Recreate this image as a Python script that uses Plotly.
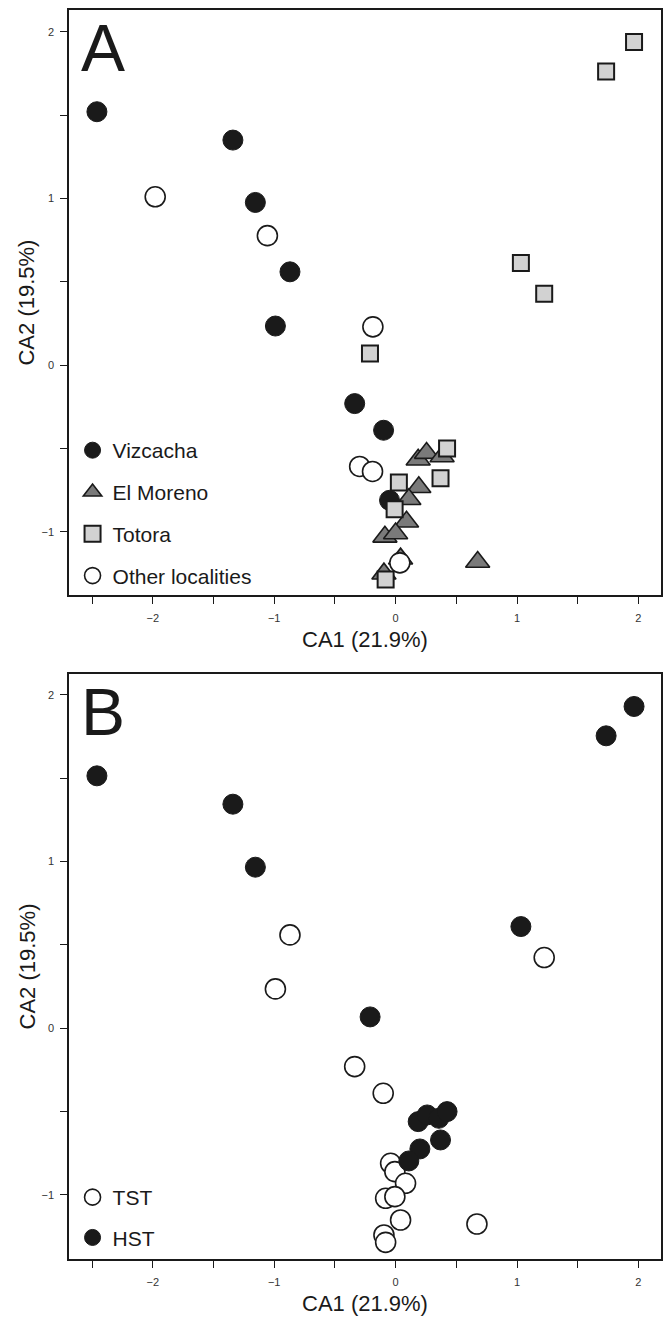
import plotly.graph_objects as go

# ---------------- Panel A data (CA1, CA2 scores by locality) ----------------
viz_x = [-2.46, -1.34, -1.155, -0.87, -0.99, -0.337, -0.099, -0.05]
viz_y = [1.52, 1.35, 0.976, 0.56, 0.235, -0.23, -0.39, -0.81]

moreno_x = [0.186, 0.255, 0.383, 0.191, 0.109, 0.09, -0.088, 0.0, 0.041, -0.096, 0.676]
moreno_y = [-0.567, -0.527, -0.547, -0.732, -0.804, -0.939, -1.029, -1.009, -1.16, -1.25, -1.18]

totora_x = [1.964, 1.734, 1.032, 1.224, -0.211, 0.424, 0.37, 0.027, -0.008, -0.082]
totora_y = [1.938, 1.761, 0.613, 0.428, 0.07, -0.50, -0.677, -0.703, -0.864, -1.285]

other_x = [-1.98, -1.056, -0.187, -0.296, -0.19, 0.035]
other_y = [1.01, 0.777, 0.23, -0.607, -0.637, -1.185]

# ---------------- Panel B data (TST / HST) ----------------
tst_x = [-0.87, -0.99, 1.224, -0.337, -0.102, -0.041, -0.006, 0.082, -0.082, -0.006, 0.041, -0.096, -0.082, 0.67]
tst_y = [0.56, 0.236, 0.424, -0.23, -0.39, -0.81, -0.86, -0.93, -1.02, -1.01, -1.15, -1.24, -1.284, -1.174]

hst_x = [-2.46, -1.34, -1.155, 1.964, 1.734, 1.032, -0.21, 0.186, 0.26, 0.356, 0.424, 0.37, 0.2, 0.109]
hst_y = [1.514, 1.344, 0.966, 1.93, 1.754, 0.61, 0.068, -0.56, -0.52, -0.54, -0.50, -0.67, -0.724, -0.796]

x_ticks = [-2, -1, 0, 1, 2]
y_ticks = [-1, 0, 1, 2]
x_title = "CA1 (21.9%)"
y_title = "CA2 (19.5%)"

FONT = "Liberation Sans, Arial, Helvetica, sans-serif"
BLACK = "#1a1a1a"

fig = go.Figure()

def add(x, y, name, symbol, size, fill, lw, xa, ya, legend, group):
    fig.add_trace(go.Scatter(
        x=x, y=y, mode="markers", name=name,
        marker=dict(symbol=symbol, size=size, color=fill,
                    line=dict(color=BLACK, width=lw)),
        xaxis=xa, yaxis=ya, legend=legend, legendgroup=group,
    ))

add(viz_x, viz_y, "Vizcacha", "circle", 20, BLACK, 1, "x", "y", "legend", "a1")
add(moreno_x, moreno_y, "El Moreno", "triangle-up", 21, "#7a7a7a", 1.6, "x", "y", "legend", "a2")
add(totora_x, totora_y, "Totora", "square", 16, "#d2d2d2", 2, "x", "y", "legend", "a3")
add(other_x, other_y, "Other localities", "circle", 20, "white", 1.6, "x", "y", "legend", "a4")

add(tst_x, tst_y, "TST", "circle", 20, "white", 1.6, "x2", "y2", "legend2", "b1")
add(hst_x, hst_y, "HST", "circle", 20, BLACK, 1, "x2", "y2", "legend2", "b2")

axis_common = dict(
    showline=True, mirror=True, linecolor=BLACK, linewidth=1.5,
    ticks="outside", ticklen=7, tickwidth=1.3, tickcolor=BLACK,
    showgrid=False, zeroline=False,
    tickfont=dict(family=FONT, size=11, color="#333333"),
    tick0=0, dtick=1,
    minor=dict(ticks="outside", ticklen=7, tickwidth=1.3, tickcolor=BLACK,
               dtick=0.5, tick0=0, showgrid=False),
)

xr = [-2.69, 2.186]
fig.update_layout(
    width=664, height=1317,
    margin=dict(l=69, r=1, t=10, b=58),
    paper_bgcolor="white", plot_bgcolor="white",
    font=dict(family=FONT, color=BLACK),
    xaxis=dict(domain=[0, 1], range=xr, anchor="y", ticklabelstandoff=5, **axis_common),
    yaxis=dict(domain=[0.5316, 1], range=[-1.378, 2.13], anchor="x", ticklabelstandoff=4, **axis_common),
    xaxis2=dict(domain=[0, 1], range=xr, anchor="y2", ticklabelstandoff=5, **axis_common),
    yaxis2=dict(domain=[0, 0.4684], range=[-1.384, 2.125], anchor="x2", ticklabelstandoff=4, **axis_common),
    legend=dict(x=0.006, y=0.5316 + 165 / 1249, xref="paper", yref="paper",
                xanchor="left", yanchor="top",
                font=dict(family=FONT, size=21, color=BLACK),
                bgcolor="rgba(0,0,0,0)", tracegroupgap=11.5, itemsizing="trace"),
    legend2=dict(x=0.006, y=82 / 1249, xref="paper", yref="paper",
                 xanchor="left", yanchor="top",
                 font=dict(family=FONT, size=21, color=BLACK),
                 bgcolor="rgba(0,0,0,0)", tracegroupgap=10, itemsizing="trace"),
)

annotations = []
for xa, ya, letter in [("x", "y", "A"), ("x2", "y2", "B")]:
    annotations.append(dict(text=letter, xref=f"{xa} domain", yref=f"{ya} domain",
                            x=0, y=1, xanchor="left", yanchor="middle",
                            xshift=10, yshift=-38, showarrow=False,
                            font=dict(family=FONT, size=66, color=BLACK)))
    annotations.append(dict(text=x_title, xref=f"{xa} domain", yref=f"{ya} domain",
                            x=0.5, y=0, xanchor="center", yanchor="middle",
                            yshift=-44, showarrow=False,
                            font=dict(family=FONT, size=22, color=BLACK)))
    annotations.append(dict(text=y_title, xref=f"{xa} domain", yref=f"{ya} domain",
                            x=0, y=0.5, xanchor="center", yanchor="middle",
                            xshift=-42, textangle=-90, showarrow=False,
                            font=dict(family=FONT, size=22, color=BLACK)))
fig.update_layout(annotations=annotations)

fig.write_html("out.html", config={"displayModeBar": False},
               post_script="document.body.style.margin='0';")
